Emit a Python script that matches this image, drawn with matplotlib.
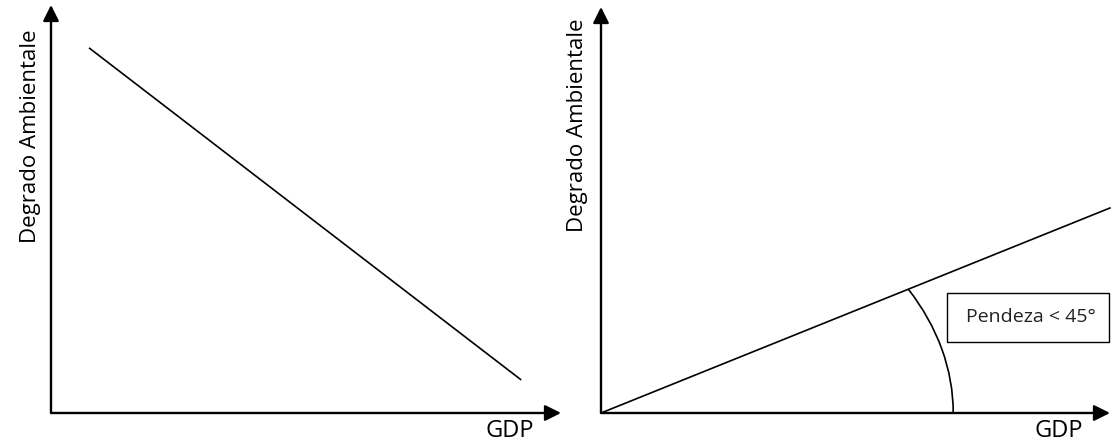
import numpy as np
import matplotlib
matplotlib.use('Agg')
import matplotlib.pyplot as plt
from matplotlib.patches import Arc, Rectangle

plt.rcParams['font.family'] = ['Open Sans', 'DejaVu Sans']

# dados (unidades arbitrarias, eixos 0..10)
rotulo_y = 'Degrado Ambientale'
rotulo_x = 'GDP'
texto_caixa = 'Pendeza < 45°'

esq_x = [0.745, 9.22]
esq_y = [8.95, 0.81]

dir_x = [0.0, 10.0]
dir_y = [0.0, 5.05]

arco_raio_x = 6.92
arco_raio_y = 6.24

W, H = 1111, 443
fig = plt.figure(figsize=(W / 100, H / 100), dpi=100)
fig.patch.set_facecolor('white')

# posicoes dos eixos em pixels: (origem x, origem y, ponta x, topo y)
ax_esq = fig.add_axes([51 / W, (H - 413) / H, 510 / W, 408 / H])
ax_dir = fig.add_axes([601 / W, (H - 413) / H, 509 / W, 406 / H])


def desenhar_eixos(ax, lx, ly):
    ax.set_xlim(0, 10)
    ax.set_ylim(0, 10)
    ax.axis('off')
    seta = dict(arrowstyle='-|>', color='black', lw=1.7,
                mutation_scale=24, shrinkA=0, shrinkB=0)
    ax.annotate('', xy=(1, 0), xytext=(0, 0), xycoords='axes fraction',
                arrowprops=seta, annotation_clip=False)
    ax.annotate('', xy=(0, 1), xytext=(0, 0), xycoords='axes fraction',
                arrowprops=seta, annotation_clip=False)
    ax.text(lx, ly, rotulo_y, transform=ax.transAxes, rotation=90,
            ha='center', va='center', fontsize=16, color='black')
    ax.text(0.9, -0.045, rotulo_x, transform=ax.transAxes,
            ha='center', va='center', fontsize=17, color='black')


desenhar_eixos(ax_esq, -0.041, 0.679)
desenhar_eixos(ax_dir, -0.047, 0.709)

ax_esq.plot(esq_x, esq_y, color='black', lw=1.2, solid_capstyle='butt')
ax_dir.plot(dir_x, dir_y, color='black', lw=1.2, clip_on=False)

angulo = np.degrees(np.arctan2(dir_y[1] - dir_y[0], dir_x[1] - dir_x[0]))
ax_dir.add_patch(Arc((0, 0), 2 * arco_raio_x, 2 * arco_raio_y,
                     theta1=0, theta2=angulo, color='black', lw=1.2,
                     clip_on=False))

ax_dir.add_patch(Rectangle((6.80, 1.75), 3.18, 1.21, facecolor='white',
                           edgecolor='black', lw=1.0, clip_on=False, zorder=3))
ax_dir.text(8.45, 2.36, texto_caixa, ha='center', va='center',
            fontsize=14, color='#222222', zorder=4)

fig.savefig('out.png', dpi=100, facecolor='white')
